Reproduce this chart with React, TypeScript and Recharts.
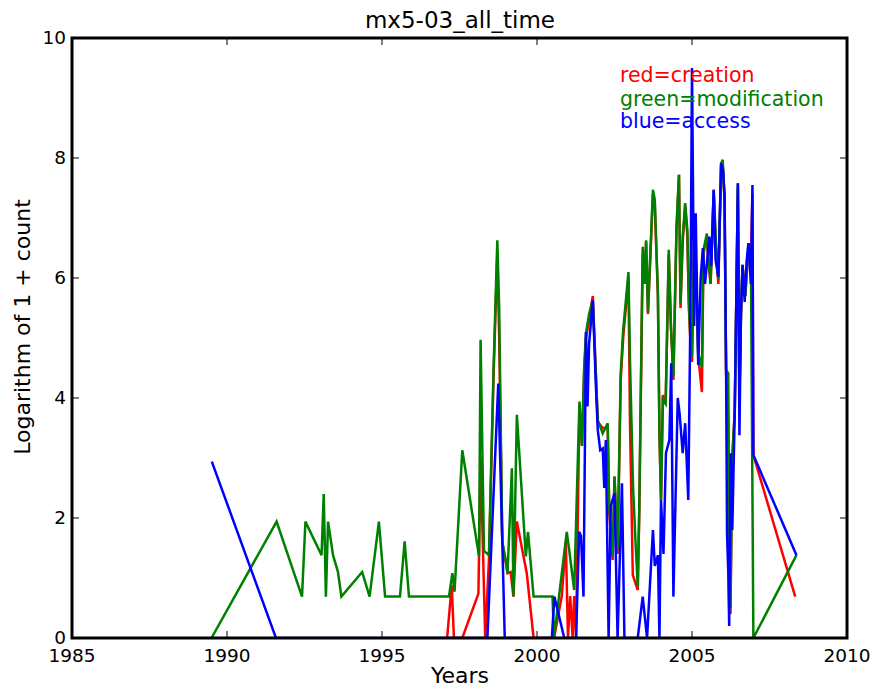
import { LineChart, Line, XAxis, YAxis } from "recharts";

// ---- tick labels ----
const yearTicks = [1985, 1990, 1995, 2000, 2005, 2010];
const countTicks = [0, 2, 4, 6, 8, 10];

// ---- creation (red) ----
const creationYears = [
  1997.1, 1997.25, 1997.32, 1997.59, 1998.11, 1998.18, 1998.33, 1998.45, 1998.6, 1998.72,
  1998.78, 1998.88, 1999.05, 1999.15, 1999.24, 1999.35, 1999.67, 1999.89, 2000.55, 2000.8,
  2000.93, 2001.0, 2001.07, 2001.15, 2001.2, 2001.26, 2001.37, 2001.45, 2001.52, 2001.58,
  2001.68, 2001.8, 2001.96, 2002.12, 2002.28, 2002.33, 2002.44, 2002.5, 2002.6, 2002.7,
  2002.78, 2002.95, 2003.0, 2003.09, 2003.25, 2003.3, 2003.41, 2003.47, 2003.52, 2003.58,
  2003.74, 2003.8, 2003.9, 2003.95, 2004.0, 2004.06, 2004.15, 2004.25, 2004.32, 2004.4,
  2004.5, 2004.58, 2004.63, 2004.7, 2004.78, 2004.85, 2004.9, 2004.96, 2005.0, 2005.07,
  2005.12, 2005.2, 2005.32, 2005.37, 2005.48, 2005.52, 2005.6, 2005.7, 2005.78, 2005.85,
  2005.94, 2005.99, 2006.05, 2006.1, 2006.17, 2006.2, 2006.24, 2006.3, 2006.38, 2006.48,
  2006.53, 2006.58, 2006.63, 2006.72, 2006.82, 2006.9, 2006.95, 2006.98, 2008.33,
];
const creationValues = [
  0, 0.88, 0, 0, 0.74, 3.02, 0, 1.3, 4.4, 6.4,
  5.0, 1.6, 1.08, 1.1, 0.69, 1.94, 1.08, 0, 0, 0.7,
  1.6, 0, 0.7, 0, 0.7, 0, 3.9, 3.2, 4.4, 5.0,
  5.3, 5.7, 3.6, 3.5, 3.5, 2.1, 1.3, 2.69, 1.4, 4.3,
  5.0, 6.0, 3.58, 1.05, 0.8, 2.1, 6.4, 5.9, 6.6, 5.4,
  7.4, 7.2, 5.7, 3.4, 2.3, 4.05, 3.9, 6.4, 5.2, 4.3,
  6.8, 7.72, 5.5, 6.6, 7.2, 6.7, 5.5, 4.8, 4.6, 6.6,
  6.2, 4.7, 4.1, 6.4, 6.7, 6.3, 5.9, 7.4, 6.4, 5.9,
  7.9, 7.9, 7.3, 4.4, 3.6, 0.5, 0.4, 3.0, 3.8, 7.5,
  4.0, 5.4, 6.2, 5.7, 6.5, 6.3, 7.4, 3.05, 0.69,
];

// ---- modification (green) ----
const modificationYears = [
  1989.5, 1991.6, 1992.42, 1992.53, 1993.05, 1993.12, 1993.19, 1993.26, 1993.42, 1993.58,
  1993.69, 1994.36, 1994.6, 1994.9, 1995.1, 1995.58, 1995.73, 1995.87, 1997.16, 1997.27,
  1997.34, 1997.59, 1998.13, 1998.18, 1998.29, 1998.45, 1998.6, 1998.72, 1998.78, 1998.88,
  1998.99, 1999.05, 1999.19, 1999.24, 1999.35, 1999.64, 1999.71, 1999.89, 2000.5, 2000.55,
  2000.96, 2001.03, 2001.2, 2001.37, 2001.45, 2001.52, 2001.58, 2001.68, 2001.8, 2001.96,
  2002.12, 2002.28, 2002.33, 2002.44, 2002.5, 2002.6, 2002.7, 2002.78, 2002.95, 2003.0,
  2003.1, 2003.18, 2003.25, 2003.3, 2003.41, 2003.47, 2003.52, 2003.58, 2003.74, 2003.8,
  2003.9, 2003.95, 2004.0, 2004.06, 2004.15, 2004.25, 2004.32, 2004.4, 2004.5, 2004.58,
  2004.63, 2004.7, 2004.78, 2004.85, 2004.9, 2004.96, 2005.0, 2005.07, 2005.12, 2005.2,
  2005.32, 2005.37, 2005.48, 2005.52, 2005.6, 2005.7, 2005.78, 2005.85, 2005.94, 2005.99,
  2006.05, 2006.1, 2006.17, 2006.2, 2006.24, 2006.3, 2006.38, 2006.48, 2006.53, 2006.58,
  2006.63, 2006.72, 2006.82, 2006.9, 2006.98, 2008.37,
];
const modificationValues = [
  0, 1.94, 0.69, 1.94, 1.38, 2.4, 0.69, 1.94, 1.38, 1.1,
  0.69, 1.1, 0.69, 1.94, 0.69, 0.69, 1.61, 0.69, 0.69, 1.08,
  0.77, 3.13, 1.36, 4.97, 1.45, 1.38, 4.5, 6.63, 5.5, 1.6,
  1.3, 1.08, 2.83, 0.69, 3.72, 1.36, 1.77, 0.69, 0.69, 0,
  1.77, 1.5, 0.8, 3.94, 3.2, 4.5, 5.08, 5.4, 5.63, 3.63,
  3.41, 3.58, 2.19, 1.36, 2.69, 1.47, 4.41, 5.13, 6.1, 4.63,
  2.5, 1.58, 0.86, 2.19, 6.52, 5.9, 6.63, 5.44, 7.47, 7.3,
  5.75, 3.41, 2.3, 3.97, 3.9, 6.47, 5.2, 4.36, 6.86, 7.72,
  5.58, 6.69, 7.25, 6.8, 5.58, 4.86, 4.69, 6.63, 6.3, 4.74,
  4.52, 6.47, 6.74, 6.4, 5.91, 7.47, 6.5, 5.97, 7.91, 7.97,
  7.3, 4.47, 4.41, 1.74, 0.5, 3.0, 3.8, 7.58, 4.0, 5.4,
  6.22, 5.7, 6.58, 6.4, 0, 1.38,
];

// ---- access (blue) ----
const accessYears = [
  1989.51, 1991.58, 1998.4, 1998.75, 1998.96, 2000.48, 2000.56, 2000.88, 2001.26, 2001.36,
  2001.42, 2001.5, 2001.58, 2001.63, 2001.68, 2001.8, 2001.9, 2001.96, 2002.04, 2002.12,
  2002.17, 2002.22, 2002.31, 2002.38, 2002.5, 2002.6, 2002.74, 2002.82, 2003.25, 2003.41,
  2003.55, 2003.74, 2003.8, 2003.9, 2003.95, 2004.0, 2004.08, 2004.16, 2004.27, 2004.33,
  2004.4, 2004.54, 2004.6, 2004.7, 2004.78, 2004.88, 2004.95, 2005.0, 2005.07, 2005.12,
  2005.2, 2005.28, 2005.35, 2005.42, 2005.56, 2005.62, 2005.7, 2005.76, 2005.85, 2005.94,
  2006.0, 2006.05, 2006.1, 2006.13, 2006.17, 2006.2, 2006.25, 2006.3, 2006.38, 2006.48,
  2006.53, 2006.58, 2006.63, 2006.7, 2006.76, 2006.82, 2006.9, 2006.95, 2006.98, 2008.37,
];
const accessValues = [
  2.94, 0, 0, 4.24, 0, 0, 0.69, 0, 0, 1.77,
  1.7, 0.69, 5.1, 3.86, 4.9, 5.63, 4.2, 3.47, 3.13, 3.16,
  2.5, 3.3, 0, 2.2, 2.41, 0, 2.58, 0, 0, 0.69,
  0, 1.8, 1.2, 1.38, 0, 2.3, 1.4, 3.08, 3.3, 4.58,
  0.69, 4.0, 3.74, 3.08, 3.58, 2.3, 5.5, 9.5, 5.2, 7.08,
  4.55, 6.0, 6.5, 5.9, 6.69, 6.2, 7.47, 6.3, 6.02, 7.91,
  7.8, 7.4, 4.47, 1.74, 1.1, 0.2, 3.08, 1.8, 3.8, 7.58,
  3.38, 5.41, 6.22, 5.6, 6.27, 6.58, 5.9, 7.55, 3.05, 1.38,
];

const toPoints = (years: number[], values: number[]) =>
  years.map((year, i) => ({ year, value: values[i] }));

const creation = toPoints(creationYears, creationValues);
const modification = toPoints(modificationYears, modificationValues);
const access = toPoints(accessYears, accessValues);

const FONT = "DejaVu Sans, sans-serif";

// plot box (matches margins + axis sizes below)
const PLOT = { left: 72, top: 38, right: 847, bottom: 638 };

// matplotlib-style ticks: short lines pointing into the plot, labels outside.
// tickSize/tickMargin are 0, so x/y handed to a tick is the axis line point.
const BottomTick = ({ x, y, payload }: any) => (
  <g>
    <line x1={x} y1={y} x2={x} y2={y - 7} stroke="#000" strokeWidth={1} />
    <text x={x} y={y + 24} textAnchor="middle" fontSize={18.5} fontFamily={FONT} fill="#000">
      {payload.value}
    </text>
  </g>
);

const TopTick = ({ x, y }: any) => (
  <line x1={x} y1={y} x2={x} y2={y + 7} stroke="#000" strokeWidth={1} />
);

const LeftTick = ({ x, y, payload }: any) => (
  <g>
    <line x1={x} y1={y} x2={x + 7} y2={y} stroke="#000" strokeWidth={1} />
    <text x={x - 6} y={y + 6} textAnchor="end" fontSize={18.5} fontFamily={FONT} fill="#000">
      {payload.value}
    </text>
  </g>
);

const RightTick = ({ x, y }: any) => (
  <line x1={x} y1={y} x2={x - 7} y2={y} stroke="#000" strokeWidth={1} />
);

const axisCommon = {
  tickSize: 0,
  tickMargin: 0,
  tickLine: false,
  axisLine: false,
  allowDataOverflow: true,
  type: "number" as const,
};

const App = () => {
  return (
    <div
      style={{
        position: "absolute",
        left: 0,
        top: 0,
        width: 877,
        height: 689,
        background: "#fff",
        fontFamily: FONT,
      }}
    >
      <LineChart width={877} height={689} margin={{ top: 28, right: 20, bottom: 21, left: 32 }}>
        <XAxis
          {...axisCommon}
          dataKey="year"
          domain={[1985, 2010]}
          ticks={yearTicks}
          height={30}
          tick={BottomTick}
        />
        <XAxis
          {...axisCommon}
          xAxisId="top"
          orientation="top"
          dataKey="year"
          domain={[1985, 2010]}
          ticks={yearTicks}
          height={10}
          tick={TopTick}
        />
        <YAxis
          {...axisCommon}
          domain={[0, 10]}
          ticks={countTicks}
          width={40}
          tick={LeftTick}
        />
        <YAxis
          {...axisCommon}
          yAxisId="right"
          orientation="right"
          domain={[0, 10]}
          ticks={countTicks}
          width={10}
          tick={RightTick}
        />

        <Line
          data={creation}
          dataKey="value"
          type="linear"
          stroke="#ff0000"
          strokeWidth={2.5}
          dot={false}
          isAnimationActive={false}
        />
        <Line
          data={modification}
          dataKey="value"
          type="linear"
          stroke="#008000"
          strokeWidth={2.5}
          dot={false}
          isAnimationActive={false}
        />
        <Line
          data={access}
          dataKey="value"
          type="linear"
          stroke="#0000ff"
          strokeWidth={2.5}
          dot={false}
          isAnimationActive={false}
        />
      </LineChart>

      <svg
        width={877}
        height={689}
        style={{ position: "absolute", left: 0, top: 0, pointerEvents: "none" }}
      >
        {/* axes frame drawn above the lines, like matplotlib spines */}
        <rect
          x={PLOT.left}
          y={PLOT.top}
          width={PLOT.right - PLOT.left}
          height={PLOT.bottom - PLOT.top}
          fill="none"
          stroke="#000"
          strokeWidth={3}
        />
        <text x={460} y={28} textAnchor="middle" fontSize={23} fontFamily={FONT} fill="#000">
          mx5-03_all_time
        </text>
        <text x={460} y={683} textAnchor="middle" fontSize={22} fontFamily={FONT} fill="#000">
          Years
        </text>
        <text
          x={0}
          y={0}
          transform="translate(30 327) rotate(-90)"
          textAnchor="middle"
          fontSize={22}
          fontFamily={FONT}
          fill="#000"
        >
          Logarithm of 1 + count
        </text>
        <text x={620} y={82} fontSize={20.5} fontFamily={FONT} fill="#ff0000">
          red=creation
        </text>
        <text x={620} y={106} fontSize={20.5} fontFamily={FONT} fill="#008000">
          green=modification
        </text>
        <text x={620} y={128} fontSize={20.5} fontFamily={FONT} fill="#0000ff">
          blue=access
        </text>
      </svg>
    </div>
  );
};

export default App;
